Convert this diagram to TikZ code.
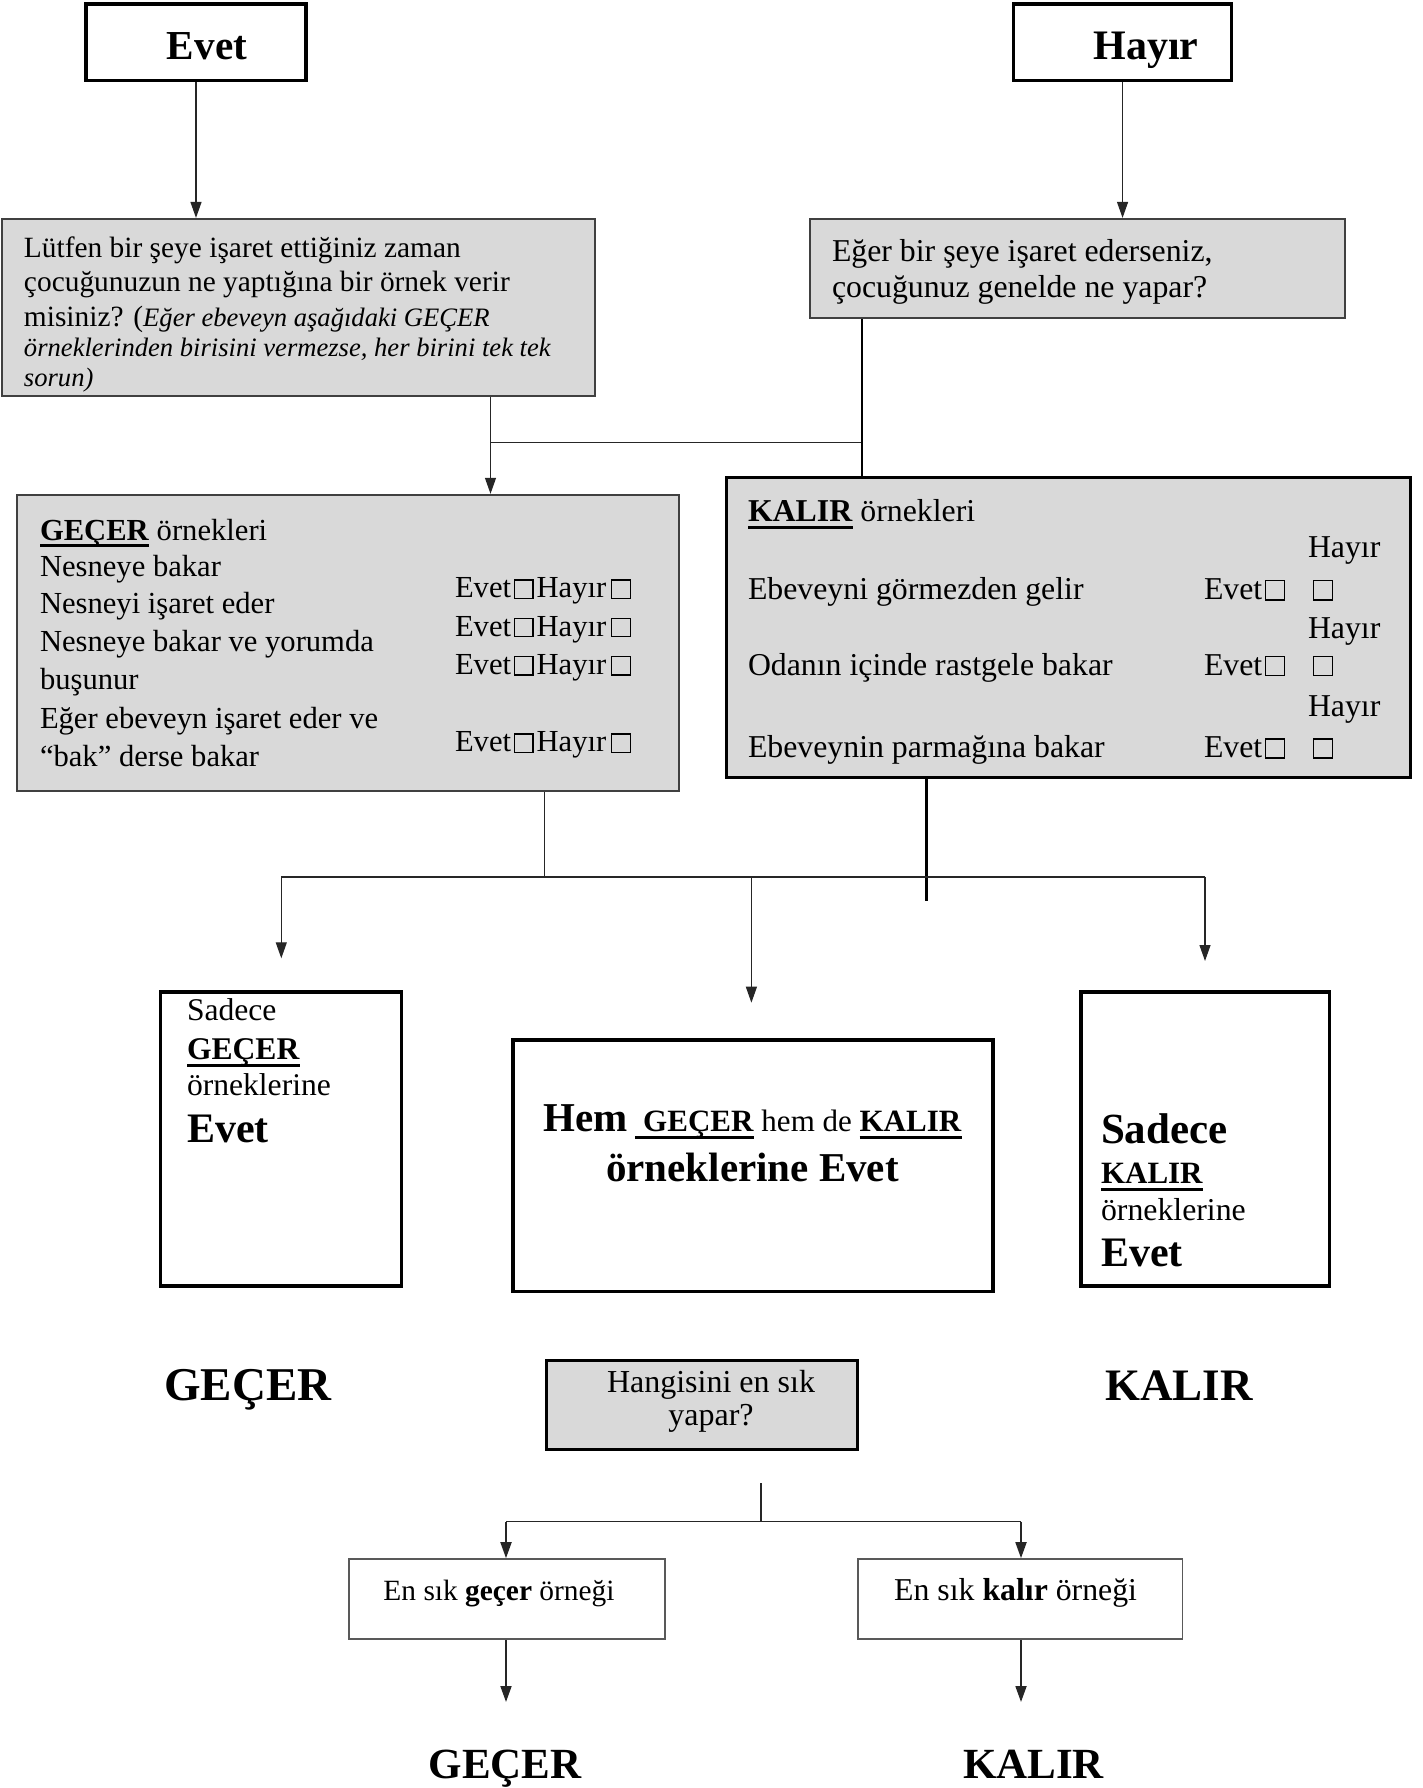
\documentclass[tikz,border=0pt]{standalone}
\usepackage{fontspec}
\setmainfont{Liberation Serif}
\usetikzlibrary{arrows.meta}
\newcommand\setfs[1]{\fontsize{#1}{#1}\selectfont}
% heavy underline used for the GEÇER / KALIR keywords
\newcommand\heavyul[1]{{\setbox0=\hbox{#1}\rlap{\rule[-0.24em]{\wd0}{0.1em}}\box0}}
\setlength\fboxsep{0pt}
\setlength\fboxrule{0.6pt}
% empty tick box
\newcommand\chk{\fbox{\rule{0pt}{0.56em}\hspace{0.56em}}}
\newcommand\evhy{Evet\hspace{1.5pt}\chk\hspace{1.5pt}Hayır\hspace{2.5pt}\chk}
\definecolor{boxgray}{HTML}{D9D9D9}
\definecolor{edgegray}{HTML}{404040}

\begin{document}
\begin{tikzpicture}[x=0.5pt,y=-0.5pt,
  txt/.style={anchor=base west,inner sep=0pt,outer sep=0pt},
  ctxt/.style={anchor=base,inner sep=0pt,outer sep=0pt},
  frame/.style={draw=black,line width=1.6pt,fill=white,inner sep=0pt},
  qbox/.style={draw=edgegray,line width=1pt,fill=boxgray,inner sep=0pt},
  kbox/.style={draw=black,line width=1.5pt,fill=boxgray,inner sep=0pt},
  obox/.style={draw=black!65,line width=0.8pt,fill=white,inner sep=0pt},
  conn/.style={draw=black!85,line width=0.6pt},
  heavy/.style={draw=black,line width=1.3pt},
  arr/.style={conn,-{Triangle[length=8pt,width=5.5pt]}},
]
\useasboundingbox (0,0) rectangle (1423,1788);

% ---------- boxes ----------
\node[frame,minimum width=110pt,minimum height=38.35pt] (evetbox) at (196,42.35) {};
\node[frame,minimum width=108.95pt,minimum height=38.35pt] (hayirbox) at (1122.55,42.35) {};
\node[qbox,minimum width=296.45pt,minimum height=88.35pt] (q1) at (298.75,307.25) {};
\node[qbox,minimum width=267.95pt,minimum height=49.6pt] (q2) at (1077.45,268.5) {};
\node[qbox,minimum width=331.05pt,minimum height=147.85pt] (gecerbox) at (348.15,642.65) {};
\node[kbox,minimum width=342.05pt,minimum height=149.95pt] (kalirbox) at (1068.35,627.65) {};
\node[frame,minimum width=120.25pt,minimum height=147pt] (sgbox) at (281.05,1139) {};
\node[frame,minimum width=240pt,minimum height=125.9pt] (hembox) at (753,1165.9) {};
\node[frame,minimum width=124.25pt,minimum height=147pt] (skbox) at (1205.25,1139) {};
\node[kbox,minimum width=155.75pt,minimum height=44.75pt] (hangibox) at (701.75,1404.75) {};
\node[obox,minimum width=158.1pt,minimum height=40pt] (gebox) at (506.9,1599) {};
\node[obox,minimum width=162.15pt,minimum height=40pt] (kebox) at (1020.15,1599) {};

% ---------- titles ----------
\node[ctxt,font=\setfs{20.6}\bfseries] (evett) at (207,59.3) {Evet};
\node[ctxt,font=\setfs{21}\bfseries] (hayirt) at (1146,59.3) {Hayır};

% ---------- first question ----------
\node[txt,font=\setfs{14.7}] (q1a) at (24,257) {Lütfen bir şeye işaret ettiğiniz zaman};
\node[txt,font=\setfs{14.7}] (q1b) at (24,291.5) {çocuğunuzun ne yaptığına bir örnek verir};
\node[txt,font=\setfs{14.7}] (q1c) at (24,326) {misiniz? ({\setfs{13.3}\itshape Eğer ebeveyn aşağıdaki GEÇER}};
\node[txt,font=\setfs{13.3}\itshape] (q1d) at (24,356.5) {örneklerinden birisini vermezse, her birini tek tek};
\node[txt,font=\setfs{13.3}\itshape] (q1e) at (24,386.5) {sorun)};

% ---------- second question ----------
\node[txt,font=\setfs{15.9}] (q2a) at (832,261) {Eğer bir şeye işaret ederseniz,};
\node[txt,font=\setfs{15.9}] (q2b) at (832,297) {çocuğunuz genelde ne yapar?};

% ---------- GEÇER examples ----------
\node[txt,font=\setfs{15.3}] (ga) at (40,540) {\heavyul{\textbf{GEÇER}} örnekleri};
\node[txt,font=\setfs{15.3}] (gb) at (40,576) {Nesneye bakar};
\node[txt,font=\setfs{15.3}] (gc) at (40,613.3) {Nesneyi işaret eder};
\node[txt,font=\setfs{15.3}] (gd) at (40,651.7) {Nesneye bakar ve yorumda};
\node[txt,font=\setfs{15.3}] (ge) at (40,689.3) {buşunur};
\node[txt,font=\setfs{15.3}] (gf) at (40,728.3) {Eğer ebeveyn işaret eder ve};
\node[txt,font=\setfs{15.3}] (gg) at (40,766) {“bak” derse bakar};
\node[txt,font=\setfs{15.3}] (gr1) at (455,597.7) {\evhy};
\node[txt,font=\setfs{15.3}] (gr2) at (455,636) {\evhy};
\node[txt,font=\setfs{15.3}] (gr3) at (455,674.3) {\evhy};
\node[txt,font=\setfs{15.3}] (gr4) at (455,751.7) {\evhy};

% ---------- KALIR examples ----------
\node[txt,font=\setfs{15.9}] (ka) at (748,521.7) {\heavyul{\textbf{KALIR}} örnekleri};
\node[txt,font=\setfs{15.9}] (kh1) at (1308,557.3) {Hayır};
\node[txt,font=\setfs{15.9}] (kb) at (748,599.3) {Ebeveyni görmezden gelir};
\node[txt,font=\setfs{15.9}] (ke1) at (1204,599.3) {Evet\hspace{1.5pt}\chk};
\node[txt,font=\setfs{15.9}] (kn1) at (1313,599.3) {\chk};
\node[txt,font=\setfs{15.9}] (kh2) at (1308,638.3) {Hayır};
\node[txt,font=\setfs{15.9}] (kc) at (748,675) {Odanın içinde rastgele bakar};
\node[txt,font=\setfs{15.9}] (ke2) at (1204,675) {Evet\hspace{1.5pt}\chk};
\node[txt,font=\setfs{15.9}] (kn2) at (1313,675) {\chk};
\node[txt,font=\setfs{15.9}] (kh3) at (1308,716.7) {Hayır};
\node[txt,font=\setfs{15.9}] (kd) at (748,757.3) {Ebeveynin parmağına bakar};
\node[txt,font=\setfs{15.9}] (ke3) at (1204,757.3) {Evet\hspace{1.5pt}\chk};
\node[txt,font=\setfs{15.9}] (kn3) at (1313,757.3) {\chk};

% ---------- outcome boxes ----------
\node[txt,font=\setfs{15.8}] (sga) at (187,1020.7) {Sadece};
\node[txt,font=\setfs{15.8}] (sgb) at (187,1059.3) {\heavyul{\textbf{GEÇER}}};
\node[txt,font=\setfs{15.8}] (sgc) at (187,1095) {örneklerine};
\node[txt,font=\setfs{21}\bfseries] (sgd) at (187,1142.3) {Evet};

\node[ctxt,font=\setfs{15.5}] (hema) at (752.5,1131.7)
  {{\setfs{20.5}\textbf{Hem}} \heavyul{\ \textbf{GEÇER}} hem de \heavyul{\textbf{KALIR}}};
\node[ctxt,font=\setfs{20.5}\bfseries] (hemb) at (752.5,1181) {örneklerine Evet};

\node[txt,font=\setfs{21.5}\bfseries] (ska) at (1101,1143.3) {Sadece};
\node[txt,font=\setfs{15.5}] (skb) at (1101,1183.3) {\heavyul{\textbf{KALIR}}};
\node[txt,font=\setfs{15.9}] (skc) at (1101,1220) {örneklerine};
\node[txt,font=\setfs{21}\bfseries] (skd) at (1101,1266.7) {Evet};

\node[ctxt,font=\setfs{23.5}\bfseries] (midg) at (248,1400) {GEÇER};
\node[ctxt,font=\setfs{22.5}\bfseries] (midk) at (1179,1400) {KALIR};

\node[ctxt,font=\setfs{16}] (hga) at (711,1392.7) {Hangisini en sık};
\node[ctxt,font=\setfs{16}] (hgb) at (711,1425) {yapar?};

\node[ctxt,font=\setfs{14.7}] (get) at (499,1600) {En sık \textbf{geçer} örneği};
\node[ctxt,font=\setfs{15.9}] (ket) at (1015.6,1600) {En sık \textbf{kalır} örneği};

\node[ctxt,font=\setfs{21.5}\bfseries] (endg) at (505,1778) {GEÇER};
\node[ctxt,font=\setfs{21.5}\bfseries] (endk) at (1033.5,1778) {KALIR};

% ---------- connectors ----------
\draw[arr] (evetbox.south) -- (evetbox.south |- q1.north);
\draw[arr] (hayirbox.south) -- (hayirbox.south |- q2.north);

\coordinate (j1) at (490.5,442.5);
\coordinate (j2) at (862,442.5);
\draw[arr] (q1.south -| j1) -- (gecerbox.north -| j1);
\draw[conn] (j1) -- (j2);
\draw[draw=black,line width=1pt] (q2.south -| j2) -- (kalirbox.north -| j2);

\coordinate (j3) at (544.5,876.7);
\coordinate (kend) at (926.5,900.7);
\coordinate (bl) at (281.3,876.7);
\coordinate (bm) at (751.4,876.7);
\coordinate (br) at (1205,876.7);
\coordinate (tl) at (281.3,958.3);
\coordinate (tm) at (751.4,1002.7);
\coordinate (tr) at (1205,961);
\draw[conn] (gecerbox.south -| j3) -- (j3);
\draw[heavy] (kalirbox.south -| kend) -- (kend);
\draw[conn,line width=0.9pt] (bl) -- (br);
\draw[arr] (bl) -- (tl);
\draw[arr] (bm) -- (tm);
\draw[arr] (br) -- (tr);

\coordinate (htop) at (761,1483);
\coordinate (hj) at (761,1521.5);
\coordinate (hl) at (506,1521.5);
\coordinate (hr) at (1021,1521.5);
\coordinate (gtip) at (506,1702);
\coordinate (ktip) at (1021,1702);
\draw[conn] (htop) -- (hj);
\draw[conn,line width=0.9pt] (hl) -- (hr);
\draw[arr,line width=0.9pt] (hl) -- (gebox.north -| hl);
\draw[arr,line width=0.9pt] (hr) -- (kebox.north -| hr);
\draw[arr,line width=0.9pt] (gebox.south -| gtip) -- (gtip);
\draw[arr,line width=0.9pt] (kebox.south -| ktip) -- (ktip);
\end{tikzpicture}
\end{document}
